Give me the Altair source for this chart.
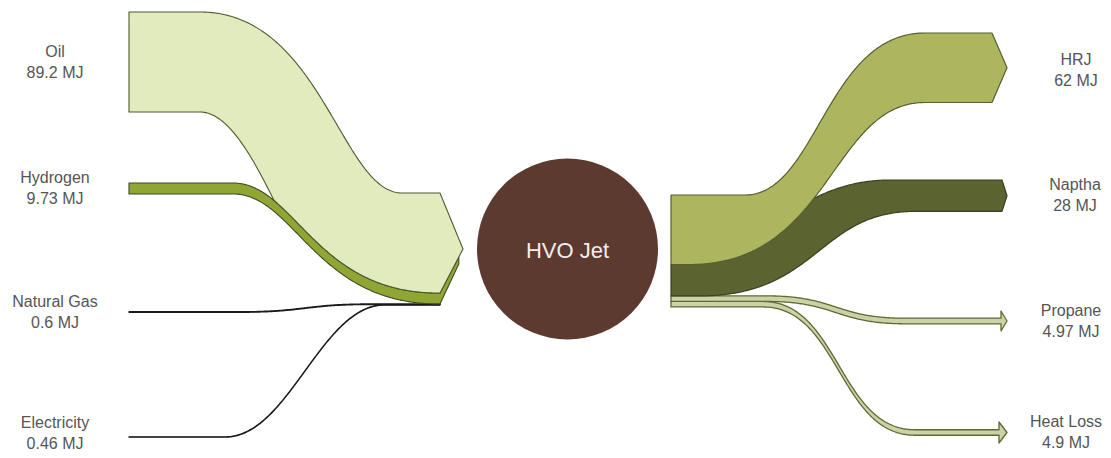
import numpy as np
import pandas as pd
import altair as alt

# ---------------- data ----------------
left_names = ["Oil", "Hydrogen", "Natural Gas", "Electricity"]
left_values = [89.2, 9.73, 0.6, 0.46]
right_names = ["HRJ", "Naptha", "Propane", "Heat Loss"]
right_values = [62, 28, 4.97, 4.9]
center_name = "HVO Jet"
unit = "MJ"

# ---------------- layout (page pixels) ----------------
K = 100.0 / 89.2           # px per MJ
XL0, XL_END, XL_TIP = 129, 440, 463
XR0 = 671
left_start_center = [62, 188.5, 312, 437]
left_label_center = [62, 188.5, 312.5, 433]
right_end_center = [67.75, 195.7, 321, 432.5]
right_label_center = [70.5, 195, 321.5, 432.5]
right_label_x = [1076, 1075, 1071, 1066]
LEFT_MERGE_TOP = 193
RIGHT_SPLIT_TOP = 195

lt = [v * K for v in left_values]
rt = [v * K for v in right_values]

left_start_top = [c - t / 2 for c, t in zip(left_start_center, lt)]
left_end_top = list(LEFT_MERGE_TOP + np.concatenate([[0], np.cumsum(lt)[:-1]]))
right_start_top = list(RIGHT_SPLIT_TOP + np.concatenate([[0], np.cumsum(rt)[:-1]]))
right_end_top = [c - t / 2 for c, t in zip(right_end_center, rt)]
left_merge_bottom = LEFT_MERGE_TOP + sum(lt)
left_tip_y = (LEFT_MERGE_TOP + left_merge_bottom) / 2


def edge(xs, xa, ya, xb, yb, a, b):
    u = np.clip((xs - xa) / (xb - xa), 0, 1)
    lo = np.zeros_like(u)
    hi = np.ones_like(u)
    for _ in range(50):
        t = (lo + hi) / 2
        B = 3 * (1 - t) ** 2 * t * a + 3 * (1 - t) * t ** 2 * (1 - b) + t ** 3
        lo = np.where(B < u, t, lo)
        hi = np.where(B < u, hi, t)
    t = (lo + hi) / 2
    s = 3 * (1 - t) * t ** 2 + t ** 3
    return ya + (yb - ya) * s


def lin(xs, x0, y0, x1, y1):
    return y0 + (y1 - y0) * (xs - x0) / (x1 - x0)


frames = {}

# ----- left side -----
xs = np.unique(np.concatenate([np.linspace(XL0, XL_END, 260), np.linspace(XL_END, XL_TIP, 12)]))
main = xs <= XL_END

# Hydrogen
h_top_c = edge(xs, 233, left_start_top[1], 438, left_end_top[1], 0.3, 0.6)
h_top = np.where(main, h_top_c, lin(xs, XL_END, left_end_top[1], XL_TIP, left_tip_y))
h_bot = np.where(main, h_top_c + lt[1], lin(xs, XL_END, left_end_top[1] + lt[1], XL_TIP, left_tip_y + 6))
hm = xs <= XL_TIP - 3
frames["Hydrogen"] = pd.DataFrame({"x": xs[hm], "y": h_top[hm], "y2": h_bot[hm]})

# Oil
o_top_c = edge(xs, 200, left_start_top[0], 402, left_end_top[0], 0.6, 0.3)
o_bot_own = edge(xs, 200, left_start_top[0] + lt[0], 345, left_end_top[0] + lt[0] + 12, 0.4, 0.3)
o_bot_c = np.minimum(o_bot_own, h_top_c)
o_top = np.where(main, o_top_c, lin(xs, XL_END, LEFT_MERGE_TOP, XL_TIP, left_tip_y))
o_bot = np.where(main, o_bot_c, lin(xs, XL_END, left_end_top[1], XL_TIP, left_tip_y))
frames["Oil"] = pd.DataFrame({"x": xs, "y": o_top, "y2": o_bot})

# Natural gas & electricity
xm = xs[main]
ng_top = edge(xm, 240, left_start_top[2], 370, left_end_top[2], 0.5, 0.5)
frames["Natural Gas"] = pd.DataFrame({"x": xm, "y": ng_top, "y2": ng_top + lt[2]})
el_top = edge(xm, 225, left_start_top[3], 385, left_end_top[3], 0.4, 0.4)
frames["Electricity"] = pd.DataFrame({"x": xm, "y": el_top, "y2": el_top + lt[3]})

# ----- right side -----
def rx(x_end, x_tip, extra=()):
    return np.unique(np.concatenate([np.linspace(XR0, x_end, 260), [x_tip], list(extra)]))

# HRJ
x = rx(992, 1007)
hb_own = edge(x, 690, right_start_top[0] + rt[0], 925, right_end_top[0] + rt[0], 0.6, 0.4)
top = np.where(x <= 992, edge(x, 745, right_start_top[0], 925, right_end_top[0], 0.4, 0.55), right_end_center[0])
bot = np.where(x <= 992, hb_own, right_end_center[0])
frames["HRJ"] = pd.DataFrame({"x": x, "y": top, "y2": bot})

# Naptha
x = rx(1002, 1007)
top = np.where(x <= 1002, edge(x, 690, right_start_top[1], 890, right_end_top[1], 0.3, 0.5), right_end_center[1])
bot = np.where(x <= 1002, edge(x, 700, right_start_top[1] + rt[1], 915, right_end_top[1] + rt[1], 0.55, 0.45), right_end_center[1])
frames["Naptha"] = pd.DataFrame({"x": x, "y": top, "y2": bot})

# Propane
x = rx(1001, 1007, [1001.01])
c = edge(x, 767, right_start_top[2], 905, right_end_top[2], 0.5, 0.5)
top = np.where(x <= 1001, c, lin(x, 1001.01, right_end_center[2] - 10, 1007, right_end_center[2]))
bot = np.where(x <= 1001, c + rt[2], lin(x, 1001.01, right_end_center[2] + 10, 1007, right_end_center[2]))
frames["Propane"] = pd.DataFrame({"x": x, "y": top, "y2": bot})

# Heat loss
x = rx(999, 1007, [999.01])
c = edge(x, 763, right_start_top[3], 915, right_end_top[3], 0.5, 0.5)
top = np.where(x <= 999, c, lin(x, 999.01, right_end_center[3] - 10.5, 1007, right_end_center[3]))
bot = np.where(x <= 999, c + rt[3], lin(x, 999.01, right_end_center[3] + 10.5, 1007, right_end_center[3]))
frames["Heat Loss"] = pd.DataFrame({"x": x, "y": top, "y2": bot})

# ---------------- styles ----------------
styles = {
    "Oil": ("#e2ebbd", "#4d5a2e", 1.1),
    "Hydrogen": ("#8fa634", "#3f4a22", 1.1),
    "Natural Gas": ("#1a1a1a", "#1a1a1a", 1.2),
    "Electricity": ("#1a1a1a", "#1a1a1a", 1.2),
    "HRJ": ("#adb55f", "#55602e", 1.2),
    "Naptha": ("#5b6330", "#3b4120", 1.2),
    "Propane": ("#cbd2a5", "#5d6a34", 1.3),
    "Heat Loss": ("#cbd2a5", "#5d6a34", 1.3),
}
draw_order = ["Electricity", "Natural Gas", "Hydrogen", "Oil",
              "Heat Loss", "Propane", "Naptha", "HRJ"]

W, H = 1095, 442
xsc = alt.Scale(domain=[8, 8 + W], nice=False, zero=False)
ysc = alt.Scale(domain=[8, 8 + H], nice=False, zero=False, reverse=True)

layers = []
for name in draw_order:
    fill, stroke, sw = styles[name]
    layers.append(
        alt.Chart(frames[name]).mark_area(
            fill=fill, stroke=stroke, strokeWidth=sw, opacity=1, fillOpacity=1,
            interpolate="linear", strokeJoin="round"
        ).encode(
            x=alt.X("x:Q", scale=xsc, axis=None),
            y=alt.Y("y:Q", scale=ysc, axis=None, stack=None),
            y2="y2:Q",
        )
    )

# center node
circle_df = pd.DataFrame({"x": [567.5], "y": [249], "label": [center_name]})
r = 90.5
layers.append(
    alt.Chart(circle_df).mark_circle(size=float((2 * r) ** 2), color="#5c3a2f", opacity=1).encode(
        x=alt.X("x:Q", scale=xsc, axis=None), y=alt.Y("y:Q", scale=ysc, axis=None)
    )
)
layers.append(
    alt.Chart(circle_df).mark_text(font="Liberation Sans", fontSize=22, color="#f3eeea",
                                   align="center", baseline="middle", dy=2).encode(
        x=alt.X("x:Q", scale=xsc, axis=None), y=alt.Y("y:Q", scale=ysc, axis=None), text="label:N"
    )
)

# labels
lab_rows = []
for n, v, c in zip(left_names, left_values, left_label_center):
    lab_rows.append({"x": 55, "y": c - 10.5, "t": n})
    lab_rows.append({"x": 55, "y": c + 10.5, "t": f"{v:g} {unit}"})
for n, v, c, lx in zip(right_names, right_values, right_label_center, right_label_x):
    lab_rows.append({"x": lx, "y": c - 10.5, "t": n})
    lab_rows.append({"x": lx, "y": c + 10.5, "t": f"{v:g} {unit}"})
lab_df = pd.DataFrame(lab_rows)
layers.append(
    alt.Chart(lab_df).mark_text(font="Liberation Sans", fontSize=16, color="#555555",
                                align="center", baseline="middle").encode(
        x=alt.X("x:Q", scale=xsc, axis=None), y=alt.Y("y:Q", scale=ysc, axis=None), text="t:N"
    )
)

chart = alt.layer(*layers).properties(
    width=W, height=H, padding=0, autosize="none", background="white"
).configure_view(strokeWidth=0)

chart.save("out.html", embed_options={"renderer": "svg", "actions": False})
